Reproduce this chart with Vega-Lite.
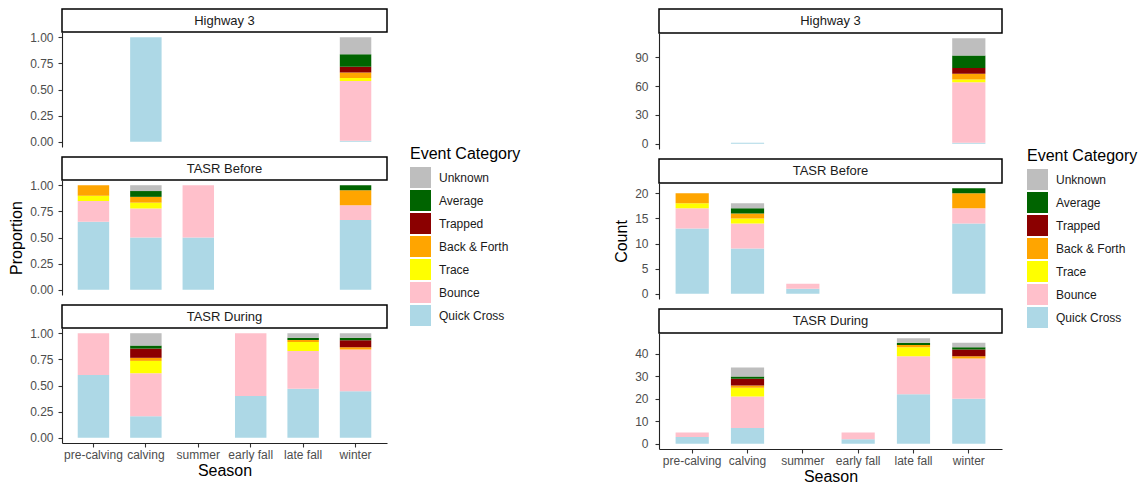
{
  "$schema": "https://vega.github.io/schema/vega-lite/v6.json",
  "background": "white",
  "autosize": {"type": "pad"},
  "padding": {"left": 8, "top": 8, "right": 4, "bottom": 0},
  "data": {"values": [
    {"site": "Highway 3", "season": "calving", "category": "Quick Cross", "count": 1},
    {"site": "Highway 3", "season": "winter", "category": "Quick Cross", "count": 1},
    {"site": "Highway 3", "season": "winter", "category": "Bounce", "count": 63},
    {"site": "Highway 3", "season": "winter", "category": "Trace", "count": 3},
    {"site": "Highway 3", "season": "winter", "category": "Back & Forth", "count": 6},
    {"site": "Highway 3", "season": "winter", "category": "Trapped", "count": 6},
    {"site": "Highway 3", "season": "winter", "category": "Average", "count": 13},
    {"site": "Highway 3", "season": "winter", "category": "Unknown", "count": 18},
    {"site": "TASR Before", "season": "pre-calving", "category": "Quick Cross", "count": 13},
    {"site": "TASR Before", "season": "pre-calving", "category": "Bounce", "count": 4},
    {"site": "TASR Before", "season": "pre-calving", "category": "Trace", "count": 1},
    {"site": "TASR Before", "season": "pre-calving", "category": "Back & Forth", "count": 2},
    {"site": "TASR Before", "season": "calving", "category": "Quick Cross", "count": 9},
    {"site": "TASR Before", "season": "calving", "category": "Bounce", "count": 5},
    {"site": "TASR Before", "season": "calving", "category": "Trace", "count": 1},
    {"site": "TASR Before", "season": "calving", "category": "Back & Forth", "count": 1},
    {"site": "TASR Before", "season": "calving", "category": "Average", "count": 1},
    {"site": "TASR Before", "season": "calving", "category": "Unknown", "count": 1},
    {"site": "TASR Before", "season": "summer", "category": "Quick Cross", "count": 1},
    {"site": "TASR Before", "season": "summer", "category": "Bounce", "count": 1},
    {"site": "TASR Before", "season": "winter", "category": "Quick Cross", "count": 14},
    {"site": "TASR Before", "season": "winter", "category": "Bounce", "count": 3},
    {"site": "TASR Before", "season": "winter", "category": "Back & Forth", "count": 3},
    {"site": "TASR Before", "season": "winter", "category": "Average", "count": 1},
    {"site": "TASR During", "season": "pre-calving", "category": "Quick Cross", "count": 3},
    {"site": "TASR During", "season": "pre-calving", "category": "Bounce", "count": 2},
    {"site": "TASR During", "season": "calving", "category": "Quick Cross", "count": 7},
    {"site": "TASR During", "season": "calving", "category": "Bounce", "count": 14},
    {"site": "TASR During", "season": "calving", "category": "Trace", "count": 4},
    {"site": "TASR During", "season": "calving", "category": "Back & Forth", "count": 1},
    {"site": "TASR During", "season": "calving", "category": "Trapped", "count": 3},
    {"site": "TASR During", "season": "calving", "category": "Average", "count": 1},
    {"site": "TASR During", "season": "calving", "category": "Unknown", "count": 4},
    {"site": "TASR During", "season": "early fall", "category": "Quick Cross", "count": 2},
    {"site": "TASR During", "season": "early fall", "category": "Bounce", "count": 3},
    {"site": "TASR During", "season": "late fall", "category": "Quick Cross", "count": 22},
    {"site": "TASR During", "season": "late fall", "category": "Bounce", "count": 17},
    {"site": "TASR During", "season": "late fall", "category": "Trace", "count": 4},
    {"site": "TASR During", "season": "late fall", "category": "Back & Forth", "count": 1},
    {"site": "TASR During", "season": "late fall", "category": "Average", "count": 1},
    {"site": "TASR During", "season": "late fall", "category": "Unknown", "count": 2},
    {"site": "TASR During", "season": "winter", "category": "Quick Cross", "count": 20},
    {"site": "TASR During", "season": "winter", "category": "Bounce", "count": 18},
    {"site": "TASR During", "season": "winter", "category": "Back & Forth", "count": 1},
    {"site": "TASR During", "season": "winter", "category": "Trapped", "count": 3},
    {"site": "TASR During", "season": "winter", "category": "Average", "count": 1},
    {"site": "TASR During", "season": "winter", "category": "Unknown", "count": 2}
  ]},
  "hconcat": [
    {
      "vconcat": [
        {
          "vconcat": [
            {"width": 325, "height": 23, "data": {"values": [{"strip": "Highway 3"}]}, "mark": {"type": "text", "fontSize": 13, "color": "#1a1a1a", "font": "Liberation Sans"}, "encoding": {"text": {"field": "strip"}}, "view": {"stroke": "#000", "strokeWidth": 1.5, "fill": "white"}},
            {"width": 325, "height": 115, "transform": [{"filter": {"field": "site", "equal": "Highway 3"}}, {"calculate": "indexof(['Quick Cross','Bounce','Trace','Back & Forth','Trapped','Average','Unknown'], datum.category)", "as": "stackRank"}], "mark": {"type": "bar"},
             "encoding": {
               "x": {"field": "season", "type": "nominal", "sort": ["pre-calving", "calving", "summer", "early fall", "late fall", "winter"], "scale": {"domain": ["pre-calving", "calving", "summer", "early fall", "late fall", "winter"], "paddingInner": 0.4, "paddingOuter": 0.3}, "axis": null},
               "y": {"field": "count", "type": "quantitative", "stack": "normalize", "scale": {"domain": [-0.05, 1.05]}, "axis": {"values": [0, 0.25, 0.5, 0.75, 1], "format": ".2f", "labelExpr": "format(datum.value, '.2f')", "title": null, "labelPadding": 5}},
               "order": {"field": "stackRank", "type": "quantitative", "sort": "ascending"},
               "color": {"field": "category", "type": "nominal", "sort": ["Quick Cross", "Bounce", "Trace", "Back & Forth", "Trapped", "Average", "Unknown"], "scale": {"domain": ["Quick Cross", "Bounce", "Trace", "Back & Forth", "Trapped", "Average", "Unknown"], "range": ["#add8e6", "#ffc0cb", "#ffff00", "#ffa500", "#8b0000", "#006400", "#bebebe"]},
                 "legend": {"title": "Event Category", "orient": "none", "legendX": 348, "legendY": 137, "values": ["Unknown", "Average", "Trapped", "Back & Forth", "Trace", "Bounce", "Quick Cross"]}}
             }}
          ],
          "spacing": 0, "bounds": "flush",
          "resolve": {"scale": {"x": "independent", "y": "independent", "color": "shared"}, "legend": {"color": "shared"}}
        },
        {
          "vconcat": [
            {"width": 325, "height": 23, "data": {"values": [{"strip": "TASR Before"}]}, "mark": {"type": "text", "fontSize": 13, "color": "#1a1a1a", "font": "Liberation Sans"}, "encoding": {"text": {"field": "strip"}}, "view": {"stroke": "#000", "strokeWidth": 1.5, "fill": "white"}},
            {"width": 325, "height": 115, "transform": [{"filter": {"field": "site", "equal": "TASR Before"}}, {"calculate": "indexof(['Quick Cross','Bounce','Trace','Back & Forth','Trapped','Average','Unknown'], datum.category)", "as": "stackRank"}], "mark": {"type": "bar"},
             "encoding": {
               "x": {"field": "season", "type": "nominal", "sort": ["pre-calving", "calving", "summer", "early fall", "late fall", "winter"], "scale": {"domain": ["pre-calving", "calving", "summer", "early fall", "late fall", "winter"], "paddingInner": 0.4, "paddingOuter": 0.3}, "axis": null},
               "y": {"field": "count", "type": "quantitative", "stack": "normalize", "scale": {"domain": [-0.05, 1.05]}, "axis": {"values": [0, 0.25, 0.5, 0.75, 1], "format": ".2f", "labelExpr": "format(datum.value, '.2f')", "title": "Proportion", "labelPadding": 5}},
               "order": {"field": "stackRank", "type": "quantitative", "sort": "ascending"},
               "color": {"field": "category", "type": "nominal", "sort": ["Quick Cross", "Bounce", "Trace", "Back & Forth", "Trapped", "Average", "Unknown"], "scale": {"domain": ["Quick Cross", "Bounce", "Trace", "Back & Forth", "Trapped", "Average", "Unknown"], "range": ["#add8e6", "#ffc0cb", "#ffff00", "#ffa500", "#8b0000", "#006400", "#bebebe"]},
                 "legend": {"title": "Event Category", "orient": "none", "legendX": 348, "legendY": 137, "values": ["Unknown", "Average", "Trapped", "Back & Forth", "Trace", "Bounce", "Quick Cross"]}}
             }}
          ],
          "spacing": 0, "bounds": "flush",
          "resolve": {"scale": {"x": "independent", "y": "independent", "color": "shared"}, "legend": {"color": "shared"}}
        },
        {
          "vconcat": [
            {"width": 325, "height": 23, "data": {"values": [{"strip": "TASR During"}]}, "mark": {"type": "text", "fontSize": 13, "color": "#1a1a1a", "font": "Liberation Sans"}, "encoding": {"text": {"field": "strip"}}, "view": {"stroke": "#000", "strokeWidth": 1.5, "fill": "white"}},
            {"width": 325, "height": 115, "transform": [{"filter": {"field": "site", "equal": "TASR During"}}, {"calculate": "indexof(['Quick Cross','Bounce','Trace','Back & Forth','Trapped','Average','Unknown'], datum.category)", "as": "stackRank"}], "mark": {"type": "bar"},
             "encoding": {
               "x": {"field": "season", "type": "nominal", "sort": ["pre-calving", "calving", "summer", "early fall", "late fall", "winter"], "scale": {"domain": ["pre-calving", "calving", "summer", "early fall", "late fall", "winter"], "paddingInner": 0.4, "paddingOuter": 0.3}, "axis": {"title": "Season", "labelAngle": 0, "labelPadding": 2, "titlePadding": 2}},
               "y": {"field": "count", "type": "quantitative", "stack": "normalize", "scale": {"domain": [-0.05, 1.05]}, "axis": {"values": [0, 0.25, 0.5, 0.75, 1], "format": ".2f", "labelExpr": "format(datum.value, '.2f')", "title": null, "labelPadding": 5}},
               "order": {"field": "stackRank", "type": "quantitative", "sort": "ascending"},
               "color": {"field": "category", "type": "nominal", "sort": ["Quick Cross", "Bounce", "Trace", "Back & Forth", "Trapped", "Average", "Unknown"], "scale": {"domain": ["Quick Cross", "Bounce", "Trace", "Back & Forth", "Trapped", "Average", "Unknown"], "range": ["#add8e6", "#ffc0cb", "#ffff00", "#ffa500", "#8b0000", "#006400", "#bebebe"]},
                 "legend": {"title": "Event Category", "orient": "none", "legendX": 348, "legendY": 137, "values": ["Unknown", "Average", "Trapped", "Back & Forth", "Trace", "Bounce", "Quick Cross"]}}
             }}
          ],
          "spacing": 0, "bounds": "flush",
          "resolve": {"scale": {"x": "independent", "y": "independent", "color": "shared"}, "legend": {"color": "shared"}}
        }
      ],
      "spacing": 8,
      "resolve": {"scale": {"x": "independent", "y": "independent", "color": "shared"}, "legend": {"color": "shared"}}
    },
    {
      "vconcat": [
        {
          "vconcat": [
            {"width": 343, "height": 24, "data": {"values": [{"strip": "Highway 3"}]}, "mark": {"type": "text", "fontSize": 13, "color": "#1a1a1a", "font": "Liberation Sans"}, "encoding": {"text": {"field": "strip"}}, "view": {"stroke": "#000", "strokeWidth": 1.5, "fill": "white"}},
            {"width": 343, "height": 116, "transform": [{"filter": {"field": "site", "equal": "Highway 3"}}, {"calculate": "indexof(['Quick Cross','Bounce','Trace','Back & Forth','Trapped','Average','Unknown'], datum.category)", "as": "stackRank"}], "mark": {"type": "bar"},
             "encoding": {
               "x": {"field": "season", "type": "nominal", "sort": ["pre-calving", "calving", "summer", "early fall", "late fall", "winter"], "scale": {"domain": ["pre-calving", "calving", "summer", "early fall", "late fall", "winter"], "paddingInner": 0.4, "paddingOuter": 0.3}, "axis": null},
               "y": {"field": "count", "type": "quantitative", "stack": "zero", "scale": {"domain": [-5.5, 115.5]}, "axis": {"values": [0, 30, 60, 90], "title": null, "labelPadding": 7}},
               "order": {"field": "stackRank", "type": "quantitative", "sort": "ascending"},
               "color": {"field": "category", "type": "nominal", "sort": ["Quick Cross", "Bounce", "Trace", "Back & Forth", "Trapped", "Average", "Unknown"], "scale": {"domain": ["Quick Cross", "Bounce", "Trace", "Back & Forth", "Trapped", "Average", "Unknown"], "range": ["#add8e6", "#ffc0cb", "#ffff00", "#ffa500", "#8b0000", "#006400", "#bebebe"]},
                 "legend": {"title": "Event Category", "orient": "none", "legendX": 368, "legendY": 139, "values": ["Unknown", "Average", "Trapped", "Back & Forth", "Trace", "Bounce", "Quick Cross"]}}
             }}
          ],
          "spacing": 0, "bounds": "flush",
          "resolve": {"scale": {"x": "independent", "y": "independent", "color": "shared"}, "legend": {"color": "shared"}}
        },
        {
          "vconcat": [
            {"width": 343, "height": 24, "data": {"values": [{"strip": "TASR Before"}]}, "mark": {"type": "text", "fontSize": 13, "color": "#1a1a1a", "font": "Liberation Sans"}, "encoding": {"text": {"field": "strip"}}, "view": {"stroke": "#000", "strokeWidth": 1.5, "fill": "white"}},
            {"width": 343, "height": 116, "transform": [{"filter": {"field": "site", "equal": "TASR Before"}}, {"calculate": "indexof(['Quick Cross','Bounce','Trace','Back & Forth','Trapped','Average','Unknown'], datum.category)", "as": "stackRank"}], "mark": {"type": "bar"},
             "encoding": {
               "x": {"field": "season", "type": "nominal", "sort": ["pre-calving", "calving", "summer", "early fall", "late fall", "winter"], "scale": {"domain": ["pre-calving", "calving", "summer", "early fall", "late fall", "winter"], "paddingInner": 0.4, "paddingOuter": 0.3}, "axis": null},
               "y": {"field": "count", "type": "quantitative", "stack": "zero", "scale": {"domain": [-1.05, 22.05]}, "axis": {"values": [0, 5, 10, 15, 20], "title": "Count", "labelPadding": 7}},
               "order": {"field": "stackRank", "type": "quantitative", "sort": "ascending"},
               "color": {"field": "category", "type": "nominal", "sort": ["Quick Cross", "Bounce", "Trace", "Back & Forth", "Trapped", "Average", "Unknown"], "scale": {"domain": ["Quick Cross", "Bounce", "Trace", "Back & Forth", "Trapped", "Average", "Unknown"], "range": ["#add8e6", "#ffc0cb", "#ffff00", "#ffa500", "#8b0000", "#006400", "#bebebe"]},
                 "legend": {"title": "Event Category", "orient": "none", "legendX": 368, "legendY": 139, "values": ["Unknown", "Average", "Trapped", "Back & Forth", "Trace", "Bounce", "Quick Cross"]}}
             }}
          ],
          "spacing": 0, "bounds": "flush",
          "resolve": {"scale": {"x": "independent", "y": "independent", "color": "shared"}, "legend": {"color": "shared"}}
        },
        {
          "vconcat": [
            {"width": 343, "height": 24, "data": {"values": [{"strip": "TASR During"}]}, "mark": {"type": "text", "fontSize": 13, "color": "#1a1a1a", "font": "Liberation Sans"}, "encoding": {"text": {"field": "strip"}}, "view": {"stroke": "#000", "strokeWidth": 1.5, "fill": "white"}},
            {"width": 343, "height": 116, "transform": [{"filter": {"field": "site", "equal": "TASR During"}}, {"calculate": "indexof(['Quick Cross','Bounce','Trace','Back & Forth','Trapped','Average','Unknown'], datum.category)", "as": "stackRank"}], "mark": {"type": "bar"},
             "encoding": {
               "x": {"field": "season", "type": "nominal", "sort": ["pre-calving", "calving", "summer", "early fall", "late fall", "winter"], "scale": {"domain": ["pre-calving", "calving", "summer", "early fall", "late fall", "winter"], "paddingInner": 0.4, "paddingOuter": 0.3}, "axis": {"title": "Season", "labelAngle": 0, "labelPadding": 2, "titlePadding": 2}},
               "y": {"field": "count", "type": "quantitative", "stack": "zero", "scale": {"domain": [-2.35, 49.35]}, "axis": {"values": [0, 10, 20, 30, 40], "title": null, "labelPadding": 7}},
               "order": {"field": "stackRank", "type": "quantitative", "sort": "ascending"},
               "color": {"field": "category", "type": "nominal", "sort": ["Quick Cross", "Bounce", "Trace", "Back & Forth", "Trapped", "Average", "Unknown"], "scale": {"domain": ["Quick Cross", "Bounce", "Trace", "Back & Forth", "Trapped", "Average", "Unknown"], "range": ["#add8e6", "#ffc0cb", "#ffff00", "#ffa500", "#8b0000", "#006400", "#bebebe"]},
                 "legend": {"title": "Event Category", "orient": "none", "legendX": 368, "legendY": 139, "values": ["Unknown", "Average", "Trapped", "Back & Forth", "Trace", "Bounce", "Quick Cross"]}}
             }}
          ],
          "spacing": 0, "bounds": "flush",
          "resolve": {"scale": {"x": "independent", "y": "independent", "color": "shared"}, "legend": {"color": "shared"}}
        }
      ],
      "spacing": 8,
      "resolve": {"scale": {"x": "independent", "y": "independent", "color": "shared"}, "legend": {"color": "shared"}}
    }
  ],
  "spacing": 92,
  "resolve": {"scale": {"x": "independent", "y": "independent", "color": "independent"}, "legend": {"color": "independent"}},
  "config": {
    "font": "Liberation Sans",
    "normalizedNumberFormat": ".2f",
    "view": {"stroke": null},
    "axis": {
      "labelFont": "Liberation Sans", "labelFontSize": 12, "labelColor": "#4d4d4d",
      "titleFont": "Liberation Sans", "titleFontSize": 16, "titleFontWeight": "normal", "titleColor": "#000",
      "domainColor": "#222", "domainWidth": 1.1, "tickColor": "#333", "tickSize": 4, "tickWidth": 1.1, "grid": false, "titlePadding": 5
    },
    "legend": {
      "titleFont": "Liberation Sans", "titleFontSize": 16, "titleFontWeight": "normal", "titleColor": "#000", "titlePadding": 5,
      "labelFont": "Liberation Sans", "labelFontSize": 12, "labelColor": "#1a1a1a", "labelOffset": 8,
      "symbolType": "square", "symbolSize": 441, "symbolStrokeWidth": 0, "rowPadding": 2, "padding": 0
    }
  }
}
